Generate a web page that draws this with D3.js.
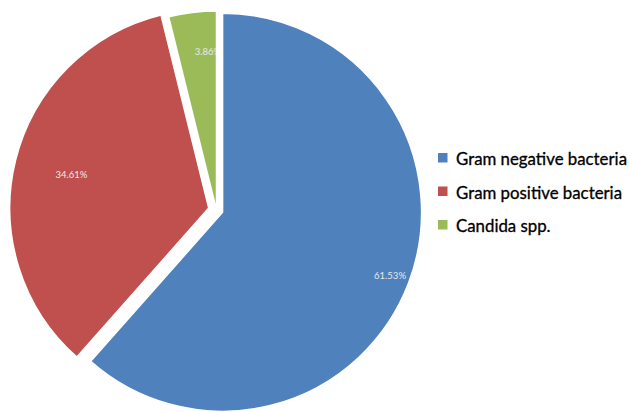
<!DOCTYPE html>
<html><head><meta charset="utf-8">
<script src="https://cdn.jsdelivr.net/npm/d3@7"></script>
<style>body{margin:0;background:#fff}svg{display:block}</style>
</head><body>
<svg id="chart" width="630" height="412"></svg>
<script>
const categories = ["Gram negative bacteria", "Gram positive bacteria", "Candida spp."];
const values = [61.53, 34.61, 3.86];
const labels = ["61.53%", "34.61%", "3.86%"];
const colors = ["#4F81BD", "#C0504D", "#9BBB59"];

// layout
const cx = 216.5, cy = 210, r = 199;
const explode = [6.5, 8, 0];
const labelRadius = [0.9, 0.71, 0.8];
const labelAngleFrac = [0.5, 0.5, 0.78];

const svg = d3.select("#chart");
const pie = d3.pie().sort(null).value(d => d)(values);
const arc = d3.arc().innerRadius(0).outerRadius(r);
const g = svg.append("g").attr("transform", `translate(${cx},${cy})`);

const defs = svg.append("defs");

pie.forEach((p, i) => {
  const mid = (p.startAngle + p.endAngle) / 2;
  const ox = Math.sin(mid) * explode[i], oy = -Math.cos(mid) * explode[i];
  const sg = g.append("g").attr("transform", `translate(${ox},${oy})`);
  sg.append("path").attr("d", arc(p)).attr("fill", colors[i])
    .attr("stroke", "#fff").attr("stroke-width", 1.5);
  defs.append("clipPath").attr("id", "clip" + i)
    .append("path").attr("d", arc(p));
});

pie.forEach((p, i) => {
  const mid = (p.startAngle + p.endAngle) / 2;
  const ox = Math.sin(mid) * explode[i], oy = -Math.cos(mid) * explode[i];
  const a = p.startAngle + (p.endAngle - p.startAngle) * labelAngleFrac[i];
  const lr = r * labelRadius[i];
  const sg = g.append("g").attr("transform", `translate(${ox},${oy})`);
  sg.append("text")
    .attr("clip-path", `url(#clip${i})`)
    .attr("x", Math.sin(a) * lr).attr("y", -Math.cos(a) * lr)
    .attr("text-anchor", "middle").attr("dominant-baseline", "central")
    .attr("font-family", "Lato, 'Open Sans', sans-serif").attr("font-size", 9.5)
    .attr("fill", "#e8e8e8").text(labels[i]);
});

const legend = svg.append("g").attr("transform", "translate(438,158)");
categories.forEach((c, i) => {
  const row = legend.append("g").attr("transform", `translate(0,${i * 33.5})`);
  row.append("rect").attr("x", 0).attr("y", -5).attr("width", 9.5).attr("height", 9.5).attr("fill", colors[i]);
  row.append("text").attr("x", 18).attr("y", 0.5)
    .attr("dominant-baseline", "central")
    .attr("font-family", "Lato, 'Open Sans', sans-serif").attr("font-size", 16.3)
    .attr("fill", "#000").attr("stroke", "#000").attr("stroke-width", 0.3)
    .text(c);
});
// compress legend text horizontally to match the reference's narrower face
const texts = legend.selectAll("text").nodes();
const k = 171 / texts[0].getComputedTextLength();
texts.forEach(t => {
  const w = t.getComputedTextLength();
  d3.select(t).attr("textLength", w * k).attr("lengthAdjust", "spacingAndGlyphs");
});
</script>
</body></html>
